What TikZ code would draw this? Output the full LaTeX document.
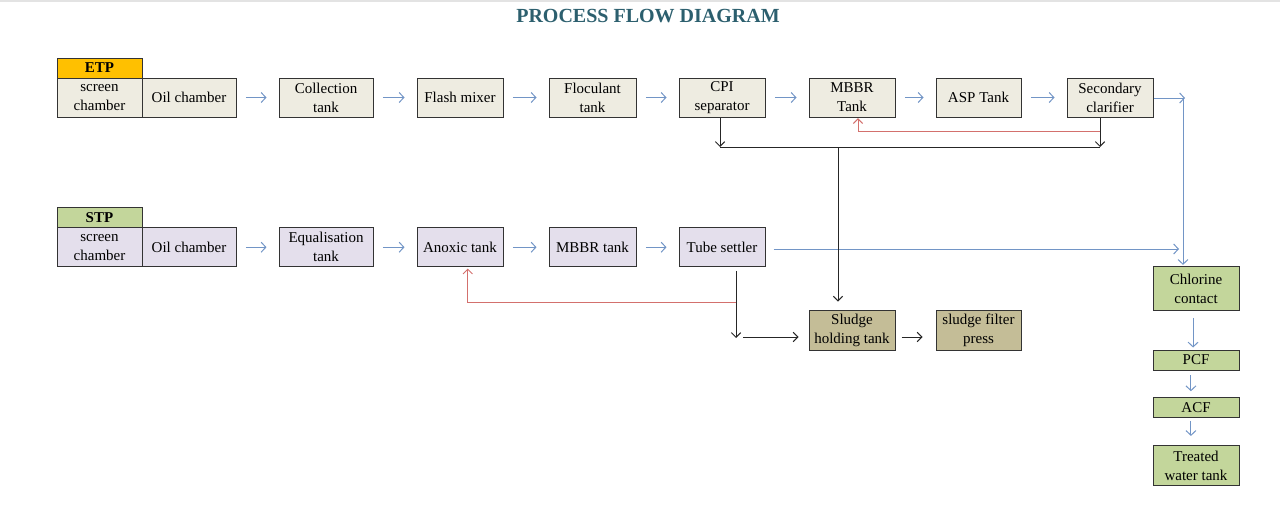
\documentclass[tikz,border=0pt]{standalone}
\usepackage{fontspec}
\setmainfont{Liberation Serif}
\usetikzlibrary{arrows.meta,calc}
\definecolor{beige}{HTML}{EEECE1}
\definecolor{lav}{HTML}{E4DFEC}
\definecolor{grn}{HTML}{C3D69B}
\definecolor{etporange}{HTML}{FFC000}
\definecolor{sludge}{HTML}{C4BD97}
\definecolor{arrowblue}{HTML}{7295C6}
\definecolor{arrowred}{HTML}{D3706D}
\definecolor{titleteal}{HTML}{2C5F6E}
\begin{document}
\begin{tikzpicture}[x=0.75pt,y=-0.75pt,
  box/.style={draw=black!80, line width=0.75pt, inner sep=0pt, align=center,
    font=\fontsize{11.25}{14.25}\selectfont, minimum height=29.25pt},
  lbl/.style={box, font=\fontsize{11.25}{14.25}\selectfont\bfseries},
  bw/.style={minimum width=#1*0.75pt},
  bh/.style={minimum height=#1*0.75pt},
  bl/.style={draw=arrowblue, line width=0.75pt, -{Straight Barb[length=3.5pt,width=7.5pt]}},
  hbl/.style={bl, shorten <=7pt, shorten >=9pt},
  vbl/.style={bl, shorten <=3pt, shorten >=2.5pt},
  bk/.style={draw=black!85, line width=0.75pt},
  bka/.style={bk, -{Straight Barb[length=3.5pt,width=7pt]}},
  rd/.style={draw=arrowred, line width=0.75pt},
  rda/.style={rd, -{Straight Barb[length=3.5pt,width=7pt]}}
]
\useasboundingbox (0,0) rectangle (1280,508);
\fill[gray!22] (0,0) rectangle (1280,2);

% title
\node[font=\fontsize{15}{18}\selectfont\bfseries, text=titleteal, anchor=base, inner sep=0pt] (title) at (648,22) {PROCESS FLOW DIAGRAM};

% ETP row
\node[lbl, fill=etporange, bw=85, bh=20] (etp) at (99.5,68) {ETP};
\node[box, fill=beige, bw=85, bh=39] (e1) at (99.5,97.5) {screen\\chamber};
\node[box, fill=beige, bw=94, bh=39] (e2) at (189,97.5) {Oil chamber};
\node[box, fill=beige, bw=94, bh=39] (e3) at (326,97.5) {Collection\\tank};
\node[box, fill=beige, bw=86, bh=39] (e4) at (460,97.5) {Flash mixer};
\node[box, fill=beige, bw=87, bh=39] (e5) at (592.5,97.5) {Floculant\\tank};
\node[box, fill=beige, bw=86, bh=39] (e6) at (722,97.5) {CPI\\separator};
\node[box, fill=beige, bw=86, bh=39] (e7) at (852,97.5) {MBBR\\Tank};
\node[box, fill=beige, bw=85, bh=39] (e8) at (978.5,97.5) {ASP Tank};
\node[box, fill=beige, bw=86, bh=39] (e9) at (1110,97.5) {Secondary\\clarifier};

\draw[hbl] (e2) -- (e3);
\draw[hbl] (e3) -- (e4);
\draw[hbl] (e4) -- (e5);
\draw[hbl] (e5) -- (e6);
\draw[hbl] (e6) -- (e7);
\draw[hbl] (e7) -- (e8);
\draw[hbl] (e8) -- (e9);

% STP row
\node[lbl, fill=grn, bw=85, bh=19.5] (stp) at (99.5,217.7) {STP};
\node[box, fill=lav, bw=85, bh=39.5] (s1) at (99.5,247.2) {screen\\chamber};
\node[box, fill=lav, bw=94, bh=39.5] (s2) at (189,247.2) {Oil chamber};
\node[box, fill=lav, bw=94, bh=39.5] (s3) at (326,247.2) {Equalisation\\tank};
\node[box, fill=lav, bw=86, bh=39.5] (s4) at (460,247.2) {Anoxic tank};
\node[box, fill=lav, bw=87, bh=39.5] (s5) at (592.5,247.2) {MBBR tank};
\node[box, fill=lav, bw=86, bh=39.5] (s6) at (722,247.2) {Tube settler};

\draw[hbl] (s2) -- (s3);
\draw[hbl] (s3) -- (s4);
\draw[hbl] (s4) -- (s5);
\draw[hbl] (s5) -- (s6);

% treatment column
\node[box, fill=grn, bw=86, bh=44] (c1) at (1196,288.7) {Chlorine\\contact};
\node[box, fill=grn, bw=86, bh=20] (c2) at (1196,360) {PCF};
\node[box, fill=grn, bw=86, bh=20] (c3) at (1196,407.7) {ACF};
\node[box, fill=grn, bw=86, bh=39.5] (c4) at (1196,465.5) {Treated\\water tank};

\draw[bl, shorten <=5pt, shorten >=1.5pt] ([xshift=-2.2pt]c1.south) -- ([xshift=-2.2pt]c2.north);
\draw[bl, shorten <=3.5pt, shorten >=4.5pt] ([xshift=-3.8pt]c2.south) -- ([xshift=-3.8pt]c3.north);
\draw[bl, shorten <=2pt, shorten >=7pt] ([xshift=-3.8pt]c3.south) -- ([xshift=-3.8pt]c4.north);

% sludge
\node[box, fill=sludge, bw=86, bh=39.5] (sh) at (852,330.5) {Sludge\\holding tank};
\node[box, fill=sludge, bw=85, bh=39.5] (sf) at (978.5,330.5) {sludge filter\\press};

% secondary clarifier outlet to chlorine contact
\coordinate (jn) at (1183,98);
\draw[bl] (e9.east |- jn) -- ($(jn)+(2,0)$);
\draw[bl, shorten >=1pt] (jn) -- (jn |- c1.north);
% tube settler outlet
\coordinate (tsend) at (1179,249);
\draw[bl, shorten <=6pt] (s6.east |- tsend) -- (tsend);

% ETP sludge collection
\coordinate (cpiB) at (720,147);
\coordinate (secB) at (1100,147);
\coordinate (shT) at (838,147);
\draw[bka] ([xshift=-1.5pt]e6.south) -- (cpiB);
\draw[bka] ([xshift=-7.5pt]e9.south) -- (secB);
\draw[bk] (cpiB) -- (secB);
\draw[bka, shorten >=6.5pt] (shT) -- (shT |- sh.north);

% ETP return sludge (red)
\coordinate (rr) at (1100,131);
\draw[rda, shorten >=0.5pt] (rr) -| ([xshift=4.5pt]e7.south);

% STP sludge
\coordinate (tsd) at (736,338);
\coordinate (tsh) at (743,337);
\draw[bka, shorten <=2.5pt] ([xshift=10.5pt]s6.south) -- (tsd);
\draw[bka, shorten >=7.5pt] (tsh) -- (tsh -| sh.west);
\draw[bka, shorten <=4.5pt, shorten >=9.75pt] (sh.east |- tsh) -- (tsh -| sf.west);

% STP return sludge (red)
\coordinate (rt) at (736,302);
\draw[rda, shorten >=0.8pt] (rt) -| ([xshift=5.8pt]s4.south);
\end{tikzpicture}
\end{document}
